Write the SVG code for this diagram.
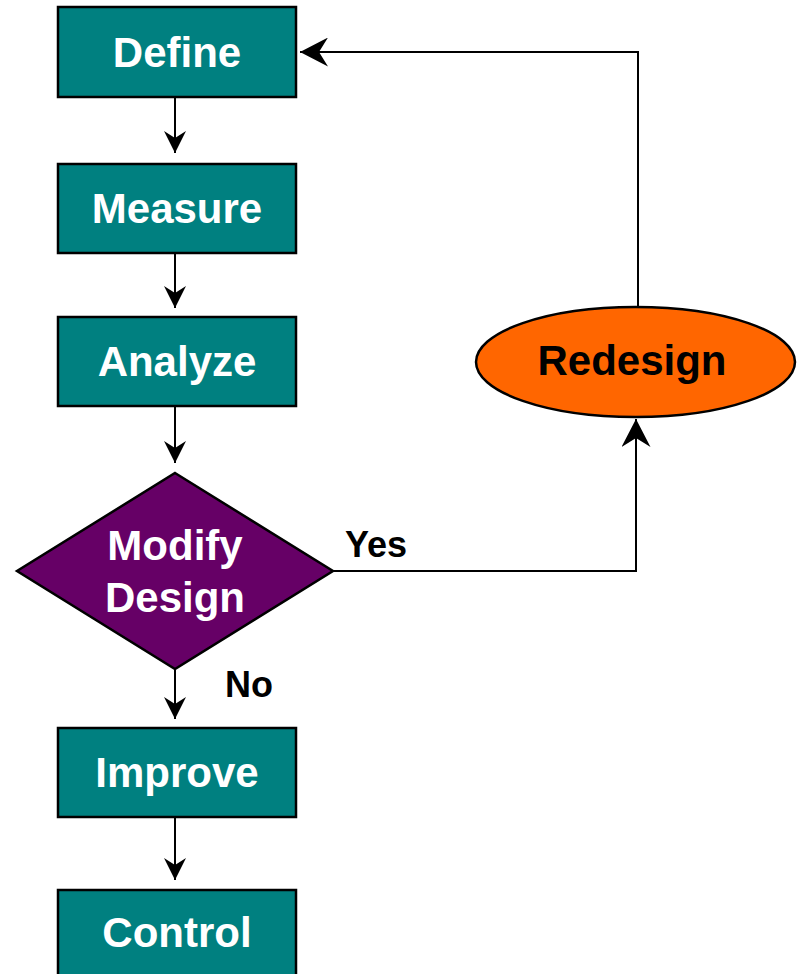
<svg xmlns="http://www.w3.org/2000/svg" width="802" height="974" viewBox="0 0 802 974">
  <style>
    .step { fill: #008080; stroke: #000; stroke-width: 2.5; }
    .decision { fill: #660066; stroke: #000; stroke-width: 2.5; }
    .loop { fill: #FF6600; stroke: #000; stroke-width: 2.5; }
    .label { font-family: "Liberation Sans", Arial, sans-serif; font-weight: bold; font-size: 42px; text-anchor: middle; fill: #fff; }
    .dark { fill: #000; }
    .edge-label { font-family: "Liberation Sans", Arial, sans-serif; font-weight: bold; font-size: 36px; fill: #000; }
    .wire { fill: none; stroke: #000; stroke-width: 2; }
  </style>
  <defs>
    <marker id="tip-sm" viewBox="0 0 22 22" refX="22" refY="11" markerWidth="22" markerHeight="22" markerUnits="userSpaceOnUse" orient="auto">
      <path d="M22,11 L0,0 L7,11 L0,22 Z" fill="#000"/>
    </marker>
    <marker id="tip-lg" viewBox="0 0 28 29" refX="28" refY="14.5" markerWidth="28" markerHeight="29" markerUnits="userSpaceOnUse" orient="auto">
      <path d="M28,14.5 L0,0 L9,14.5 L0,29 Z" fill="#000"/>
    </marker>
  </defs>

  <g id="connectors">
    <path class="wire" d="M175,97 V153" marker-end="url(#tip-sm)"/>
    <path class="wire" d="M175,253 V308" marker-end="url(#tip-sm)"/>
    <path class="wire" d="M175,406 V463" marker-end="url(#tip-sm)"/>
    <path class="wire" d="M175,669 V719" marker-end="url(#tip-sm)"/>
    <path class="wire" d="M175,817 V880" marker-end="url(#tip-sm)"/>
    <path class="wire" d="M333,571 H636 V419" marker-end="url(#tip-lg)"/>
    <path class="wire" d="M638,307 V52 H300" marker-end="url(#tip-lg)"/>
    <text class="edge-label" x="345" y="557">Yes</text>
    <text class="edge-label" x="225" y="697">No</text>
  </g>

  <g id="define">
    <rect class="step" x="58" y="7" width="238" height="90"/>
    <text class="label" x="177" y="67">Define</text>
  </g>
  <g id="measure">
    <rect class="step" x="58" y="164" width="238" height="89"/>
    <text class="label" x="177" y="223">Measure</text>
  </g>
  <g id="analyze">
    <rect class="step" x="58" y="317" width="238" height="89"/>
    <text class="label" x="177" y="376">Analyze</text>
  </g>
  <g id="modify-design">
    <polygon class="decision" points="175,473 333,571 175,669 17,571"/>
    <text class="label" x="175" y="560">Modify</text>
    <text class="label" x="175" y="612">Design</text>
  </g>
  <g id="improve">
    <rect class="step" x="58" y="728" width="238" height="89"/>
    <text class="label" x="177" y="787">Improve</text>
  </g>
  <g id="control">
    <rect class="step" x="58" y="890" width="238" height="90"/>
    <text class="label" x="177" y="947">Control</text>
  </g>
  <g id="redesign">
    <ellipse class="loop" cx="635.5" cy="362" rx="159.5" ry="55"/>
    <text class="label dark" x="632" y="375">Redesign</text>
  </g>
</svg>
